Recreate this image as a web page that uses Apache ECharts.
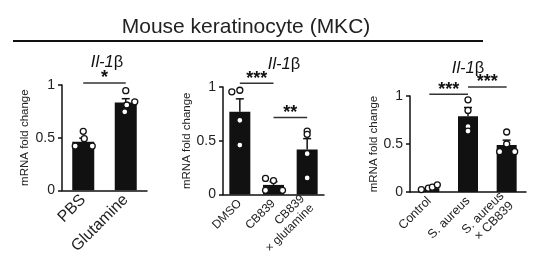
<!DOCTYPE html>
<html><head><meta charset="utf-8">
<script src="https://cdn.jsdelivr.net/npm/echarts@6/dist/echarts.min.js"></script>
<style>html,body{margin:0;padding:0;background:#fff}#c{width:551px;height:257px}</style>
</head><body><div id="c"></div>
<script>
// ---------- data ----------
const mainTitle = 'Mouse keratinocyte (MKC)';
const geneItalic = 'Il-1';
const geneGreek = 'β';
const yName = 'mRNA fold change';
const yMin = 0, yMax = 1, yStep = 0.5;

const catsA = ['PBS', 'Glutamine'];
const meanA = [0.46, 0.835];
const semA = [0.035, 0.035];
const dotsA = [[0.42, 0.56, 0.49, 0.42], [0.946, 0.84, 0.81, 0.745]];
const sigA = [[0, 1, 1.02, '*']];

const catsB = ['DMSO', 'CB839', 'CB839\n× glutamine'];
const meanB = [0.77, 0.09, 0.42];
const semB = [0.12, 0.03, 0.10];
const dotsB = [[0.955, 0.97, 0.69, 0.46], [0.15, 0.13, 0.04, 0.04], [0.59, 0.56, 0.38, 0.155]];
const sigB = [[0, 1, 1.034, '***'], [1, 2, 0.716, '**']];

const catsC = ['Control', 'S. aureus', 'S. aureus\n× CB839'];
const meanC = [0.04, 0.79, 0.49];
const semC = [0.01, 0.09, 0.05];
const dotsC = [[0.025, 0.04, 0.05, 0.075], [0.96, 0.85, 0.68, 0.635], [0.625, 0.5, 0.42, 0.42]];
const sigC = [[0, 1, 1.018, '***'], [1, 2, 1.094, '***']];

// ---------- style / layout ----------
const INK = '#111';
const TXT = '#222';
const FONT = 'Liberation Sans, Arial, sans-serif';
const panels = [
  { cats: catsA, mean: meanA, sem: semA, dots: dotsA, sig: sigA,
    grid: { left: 62, top: 85, width: 85, height: 111 }, barW: 22, xFont: 16, nameGap: 31,
    jitter: [[-8, 0, 1, 9], [0, 9, 1, -1]], title: [107, 62] },
  { cats: catsB, mean: meanB, sem: semB, dots: dotsB, sig: sigB,
    grid: { left: 223, top: 87, width: 101, height: 108 }, barW: 21, xFont: 12, nameGap: 25,
    jitter: [[-8, 0, 0, 0], [-8, 0, -8, 9], [0, 0, 0, 0]], title: [284, 64] },
  { cats: catsC, mean: meanC, sem: semC, dots: dotsC, sig: sigC,
    grid: { left: 410, top: 96, width: 116, height: 96 }, barW: 20, xFont: 12.5, nameGap: 29,
    jitter: [[-8, -1, 3, 8], [0, 0, 0, 0], [0, 0, -7, 8]], title: [468, 68] }
];

const grids = [], xAxes = [], yAxes = [], series = [], graphics = [];

panels.forEach((p, k) => {
  grids.push(Object.assign({ containLabel: false }, p.grid));
  xAxes.push({
    type: 'category', gridIndex: k, data: p.cats,
    axisLine: { lineStyle: { color: INK, width: 1.5 } },
    axisTick: { show: false },
    axisLabel: { rotate: 45, interval: 0, fontSize: p.xFont, color: TXT, fontFamily: FONT, margin: 7, lineHeight: p.xFont + 1 }
  });
  yAxes.push({
    type: 'value', gridIndex: k, min: yMin, max: yMax, interval: yStep,
    name: yName, nameLocation: 'middle', nameGap: p.nameGap,
    nameTextStyle: { fontSize: 11.5, color: TXT, fontFamily: FONT },
    axisLine: { show: true, lineStyle: { color: INK, width: 1.5 } },
    axisTick: { show: true, length: 4, lineStyle: { color: INK, width: 1.5 } },
    splitLine: { show: false },
    axisLabel: { fontSize: 14, color: TXT, fontFamily: FONT, margin: 7 }
  });
  series.push({
    type: 'bar', xAxisIndex: k, yAxisIndex: k, data: p.mean, barWidth: p.barW,
    itemStyle: { color: INK }, silent: true, z: 2
  });
  series.push({
    type: 'custom', xAxisIndex: k, yAxisIndex: k, z: 3, silent: true,
    data: p.mean.map((m, i) => [i, m, p.sem[i]]),
    renderItem: (params, api) => {
      const i = api.value(0), m = api.value(1), s = api.value(2);
      const a = api.coord([i, m]), b = api.coord([i, m + s]);
      return { type: 'group', children: [
        { type: 'line', shape: { x1: a[0], y1: a[1], x2: b[0], y2: b[1] }, style: { stroke: INK, lineWidth: 1.5 } },
        { type: 'line', shape: { x1: b[0] - 4, y1: b[1], x2: b[0] + 4, y2: b[1] }, style: { stroke: INK, lineWidth: 1.5 } }
      ] };
    }
  });
  const sd = [];
  p.dots.forEach((arr, i) => arr.forEach((v, j) => sd.push({ value: [i, v], symbolOffset: [p.jitter[i][j], 0] })));
  series.push({
    type: 'scatter', xAxisIndex: k, yAxisIndex: k, data: sd, symbol: 'circle', symbolSize: 6, z: 4, silent: true,
    itemStyle: { color: '#fff', borderColor: INK, borderWidth: 1.3, opacity: 1 }
  });
  series.push({
    type: 'custom', xAxisIndex: k, yAxisIndex: k, z: 5, silent: true,
    data: p.sig.map(s => [s[0], s[1], s[2], s[3]]),
    renderItem: (params, api) => {
      const a = api.coord([api.value(0), api.value(2)]);
      const b = api.coord([api.value(1), api.value(2)]);
      const lab = p.sig[params.dataIndex][3];
      return { type: 'group', children: [
        { type: 'line', shape: { x1: a[0], y1: a[1], x2: b[0], y2: b[1] }, style: { stroke: '#333', lineWidth: 1.5 } },
        { type: 'text', x: (a[0] + b[0]) / 2, y: a[1] + 4.5, style: { text: lab, fontSize: 18, fontWeight: 'bold', fill: INK, fontFamily: FONT, align: 'center', verticalAlign: 'bottom' } }
      ] };
    }
  });
  graphics.push({
    type: 'text', x: p.title[0], y: p.title[1],
    style: { text: '{i|' + geneItalic + '}{g|' + geneGreek + '}', align: 'center', verticalAlign: 'middle',
      rich: { i: { fontStyle: 'italic', fontSize: 16.5, fontFamily: FONT, fill: INK },
              g: { fontSize: 16.5, fontFamily: FONT, fill: INK } } }
  });
});

graphics.push({ type: 'text', x: 246, y: 27, style: { text: mainTitle, fontSize: 21, fill: TXT, fontFamily: FONT, align: 'center', verticalAlign: 'middle' } });
graphics.push({ type: 'line', shape: { x1: 13, y1: 41, x2: 483, y2: 41 }, style: { stroke: INK, lineWidth: 2 } });
graphics.push({ type: 'text', x: 213, y: 255, style: { text: 'D', fontSize: 20, fontWeight: 'bold', fill: INK, fontFamily: FONT, align: 'left', verticalAlign: 'top' } });

const chart = echarts.init(document.getElementById('c'), null, { renderer: 'canvas' });
chart.setOption({
  animation: false, backgroundColor: '#fff',
  grid: grids, xAxis: xAxes, yAxis: yAxes, series: series, graphic: graphics
});
</script></body></html>
